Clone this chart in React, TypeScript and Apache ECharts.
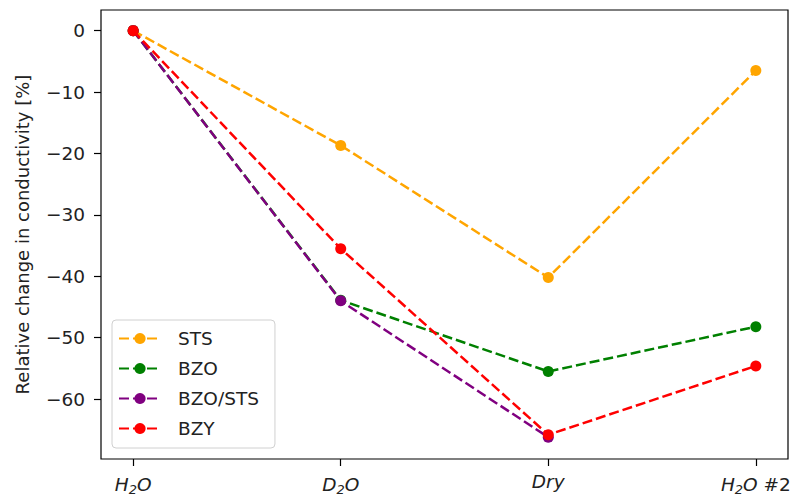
import React, { useEffect, useRef } from "react";
import * as echarts from "echarts";

const categories = ["H2O", "D2O", "Dry", "H2O #2"];
const seriesNames = ["STS", "BZO", "BZO/STS", "BZY"];
const stsValues = [0, -18.7, -40.2, -6.5];
const bzoValues = [0, -43.9, -55.5, -48.2];
const bzoStsValues: (number | null)[] = [0, -44.0, -66.2, null];
const bzyValues = [0, -35.5, -65.8, -54.6];
const yTicks = [0, -10, -20, -30, -40, -50, -60];
const colors = ["#FFA500", "#008000", "#800080", "#FF0000"];

const labelRich: Record<number, string> = {
  0: "{i|H}{s|2}{i|O}",
  1: "{i|D}{s|2}{i|O}",
  2: "{i|Dry}",
  3: "{i|H}{s|2}{i|O}{n| #2}",
};

export default function App() {
  const ref = useRef<HTMLDivElement>(null);
  useEffect(() => {
    if (!ref.current) return;
    const chart = echarts.init(ref.current, undefined, { renderer: "svg" });
    const all = [stsValues, bzoValues, bzoStsValues, bzyValues];
    const font = "DejaVu Sans";
    const fs = 18.5;
    chart.setOption({
      animation: false,
      grid: {
        left: 101,
        right: 10,
        top: 10,
        bottom: 40,
        show: true,
        borderColor: "#000",
        borderWidth: 1.2,
        backgroundColor: "transparent",
      },
      legend: {
        orient: "vertical",
        left: 112,
        top: 320,
        data: seriesNames,
        itemWidth: 42,
        itemHeight: 14,
        itemGap: 11,
        padding: [9, 16, 10, 6],
        backgroundColor: "#fff",
        borderColor: "#d0d0d0",
        borderWidth: 1,
        borderRadius: 4,
        textStyle: {
          fontFamily: font,
          fontSize: fs,
          lineHeight: 14,
          color: "#222",
          padding: [0, 0, 0, 12],
        },
      },
      xAxis: {
        type: "value",
        min: -0.155,
        max: 3.155,
        splitLine: { show: false },
        axisLine: { show: false, onZero: false },
        axisTick: {
          show: true,
          length: 7,
          customValues: [0, 1, 2, 3],
          lineStyle: { color: "#000", width: 1.2 },
        },
        axisLabel: {
          customValues: [0, 1, 2, 3],
          margin: 13,
          formatter: (v: number) => labelRich[Math.round(v)] ?? categories[Math.round(v)],
          rich: {
            i: { fontFamily: font, fontStyle: "italic", fontSize: fs, color: "#222" },
            s: {
              fontFamily: font,
              fontStyle: "italic",
              fontSize: 13,
              color: "#222",
              verticalAlign: "bottom",
              padding: [11, 0, 0, 0],
            },
            n: { fontFamily: font, fontSize: fs, color: "#222" },
          },
        },
      },
      yAxis: {
        type: "value",
        min: -69.75,
        max: 3.36,
        splitLine: { show: false },
        axisLine: { show: false, onZero: false },
        axisTick: {
          show: true,
          length: 7,
          customValues: yTicks,
          lineStyle: { color: "#000", width: 1.2 },
        },
        axisLabel: {
          customValues: yTicks,
          margin: 16,
          fontFamily: font,
          fontSize: fs,
          color: "#222",
          formatter: (v: number) => (v < 0 ? "\u2212" + Math.abs(v) : String(v)),
        },
        name: "Relative change in conductivity [%]",
        nameLocation: "middle",
        nameGap: 70,
        nameRotate: 90,
        nameTextStyle: { fontFamily: font, fontSize: 18, color: "#222" },
      },
      series: seriesNames.map((name, k) => ({
        name,
        type: "line",
        z: 2 + k,
        data: all[k].map((v, i) => (v === null ? null : [i, v])).filter((d) => d !== null),
        symbol: "circle",
        symbolSize: 11,
        itemStyle: { color: colors[k] },
        lineStyle: { color: colors[k], width: 2.5, type: [10, 4] },
      })),
    });
    return () => chart.dispose();
  }, []);
  return <div ref={ref} style={{ width: 798, height: 499, position: "absolute", left: 0, top: 0 }} />;
}
